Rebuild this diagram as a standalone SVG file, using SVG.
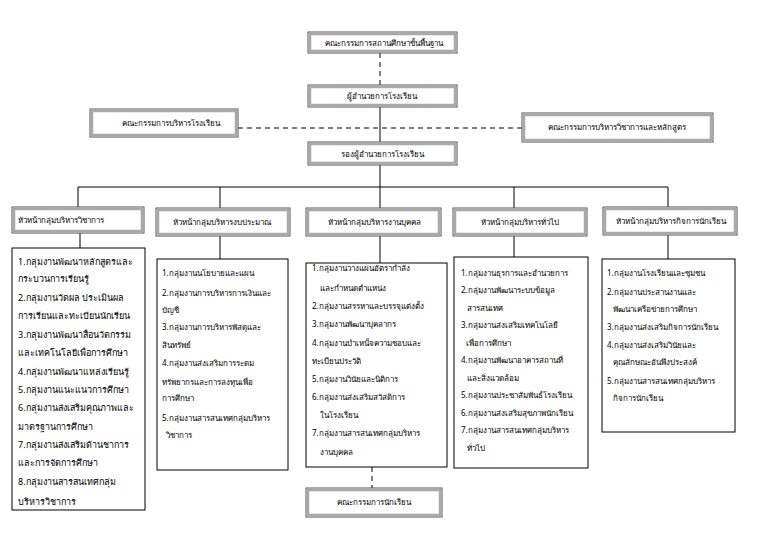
<svg xmlns="http://www.w3.org/2000/svg" width="758" height="533" viewBox="0 0 758 533">
<style>
text{font-family:"Noto Sans","DejaVu Sans","Liberation Sans",sans-serif;font-size:8px;fill:#000}
.c1 text{font-size:9px}
.mid{text-anchor:middle}
.b3o{fill:#fff;stroke:#555;stroke-width:1}
.b3i{fill:none;stroke:#a9a9a9;stroke-width:2.5}
.lst{fill:#fff;stroke:#000;stroke-width:1}
.ln{stroke:#000;stroke-width:1;fill:none}
.dash{stroke:#000;stroke-width:1;fill:none;stroke-dasharray:5,4}
</style>
<rect width="758" height="533" fill="#fff"/>
<g id="connectors">
<line class="dash" x1="380" y1="53" x2="380" y2="85"/>
<line class="ln" x1="380" y1="107" x2="380" y2="142"/>
<line class="dash" x1="238" y1="128" x2="522" y2="128"/>
<line class="ln" x1="380" y1="165" x2="380" y2="187"/>
<line class="ln" x1="78" y1="187" x2="668" y2="187"/>
<line class="ln" x1="78" y1="187" x2="78" y2="207"/>
<line class="ln" x1="220" y1="187" x2="220" y2="208"/>
<line class="ln" x1="380" y1="187" x2="380" y2="208"/>
<line class="ln" x1="514" y1="187" x2="514" y2="208"/>
<line class="ln" x1="668" y1="187" x2="668" y2="207"/>
<line class="ln" x1="80" y1="233" x2="80" y2="248"/>
<line class="ln" x1="220" y1="236" x2="220" y2="259"/>
<line class="ln" x1="380" y1="236" x2="380" y2="263"/>
<line class="ln" x1="514" y1="236" x2="514" y2="257"/>
<line class="ln" x1="668" y1="235" x2="668" y2="259"/>
<line class="dash" x1="372" y1="467" x2="372" y2="488"/>
</g>
<g id="n-board">
<rect class="b3o" x="308" y="32" width="149" height="21"/><rect class="b3i" x="310" y="34" width="145" height="17"/>
<text class="mid" x="384" y="46">คณะกรรมการสถานศึกษาขั้นพื้นฐาน</text>
</g>
<g id="n-director">
<rect class="b3o" x="308" y="85" width="149" height="22"/><rect class="b3i" x="310" y="87" width="145" height="18"/>
<text class="mid" x="382" y="99">ผู้อำนวยการโรงเรียน</text>
</g>
<g id="n-deputy">
<rect class="b3o" x="308" y="142" width="149" height="23"/><rect class="b3i" x="310" y="144" width="145" height="19"/>
<text class="mid" x="382" y="157">รองผู้อำนวยการโรงเรียน</text>
</g>
<g id="n-schoolboard">
<rect class="b3o" x="90" y="109" width="148" height="28"/><rect class="b3i" x="92" y="111" width="144" height="24"/>
<text class="mid" x="171" y="126">คณะกรรมการบริหารโรงเรียน</text>
</g>
<g id="n-academicboard">
<rect class="b3o" x="522" y="113" width="191" height="29"/><rect class="b3i" x="524" y="115" width="187" height="25"/>
<text class="mid" x="617" y="130">คณะกรรมการบริหารวิชาการและหลักสูตร</text>
</g>
<g id="h1">
<rect class="b3o" x="12" y="207" width="132" height="26"/><rect class="b3i" x="14" y="209" width="128" height="22"/>
<text x="18" y="223">หัวหน้ากลุ่มบริหารวิชาการ</text>
</g>
<g id="h2">
<rect class="b3o" x="156" y="208" width="134" height="28"/><rect class="b3i" x="158" y="210" width="130" height="24"/>
<text class="mid" x="222" y="225">หัวหน้ากลุ่มบริหารงบประมาณ</text>
</g>
<g id="h3">
<rect class="b3o" x="306" y="208" width="135" height="28"/><rect class="b3i" x="308" y="210" width="131" height="24"/>
<text class="mid" x="374" y="225">หัวหน้ากลุ่มบริหารงานบุคคล</text>
</g>
<g id="h4">
<rect class="b3o" x="453" y="208" width="134" height="28"/><rect class="b3i" x="455" y="210" width="130" height="24"/>
<text class="mid" x="520" y="225">หัวหน้ากลุ่มบริหารทั่วไป</text>
</g>
<g id="h5">
<rect class="b3o" x="603" y="207" width="134" height="28"/><rect class="b3i" x="605" y="209" width="130" height="24"/>
<text class="mid" x="671" y="224">หัวหน้ากลุ่มบริหารกิจการนักเรียน</text>
</g>
<g id="c1" class="c1">
<rect class="lst" x="12" y="248" width="133" height="262"/>
<text x="18" y="265">1.กลุ่มงานพัฒนาหลักสูตรและ</text>
<text x="18" y="282">กระบวนการเรียนรู้</text>
<text x="18" y="301">2.กลุ่มงานวัดผล ประเมินผล</text>
<text x="18" y="319">การเรียนและทะเบียนนักเรียน</text>
<text x="18" y="338">3.กลุ่มงานพัฒนาสื่อนวัตกรรม</text>
<text x="18" y="356">และเทคโนโลยีเพื่อการศึกษา</text>
<text x="18" y="375">4.กลุ่มงานพัฒนาแหล่งเรียนรู้</text>
<text x="18" y="393">5.กลุ่มงานแนะแนวการศึกษา</text>
<text x="18" y="411">6.กลุ่มงานส่งเสริมคุณภาพและ</text>
<text x="18" y="430">มาตรฐานการศึกษา</text>
<text x="18" y="448">7.กลุ่มงานส่งเสริมด้านชาการ</text>
<text x="18" y="466">และการจัดการศึกษา</text>
<text x="18" y="485">8.กลุ่มงานสารสนเทศกลุ่ม</text>
<text x="18" y="505">บริหารวิชาการ</text>
</g>
<g id="c2">
<rect class="lst" x="157" y="259" width="131" height="211"/>
<text x="162" y="276">1.กลุ่มงานนโยบายและแผน</text>
<text x="162" y="296">2.กลุ่มงานการบริหารการเงินและ</text>
<text x="162" y="313">บัญชี</text>
<text x="162" y="330">3.กลุ่มงานการบริหารพัสดุและ</text>
<text x="162" y="348">สินทรัพย์</text>
<text x="162" y="366">4.กลุ่มงานส่งเสริมการระดม</text>
<text x="162" y="385">ทรัพยากรและการลงทุนเพื่อ</text>
<text x="162" y="401">การศึกษา</text>
<text x="162" y="421">5.กลุ่มงานสารสนเทศกลุ่มบริหาร</text>
<text x="166" y="438">วิชาการ</text>
</g>
<g id="c3">
<rect class="lst" x="306" y="263" width="141" height="204"/>
<text x="312" y="271">1.กลุ่มงานวางแผนอัตรากำลัง</text>
<text x="320" y="291">และกำหนดตำแหน่ง</text>
<text x="312" y="309">2.กลุ่มงานสรรหาและบรรจุแต่งตั้ง</text>
<text x="312" y="327">3.กลุ่มงานพัฒนาบุคลากร</text>
<text x="312" y="346">4.กลุ่มงานบำเหน็จความชอบและ</text>
<text x="312" y="364">ทะเบียนประวัติ</text>
<text x="312" y="382">5.กลุ่มงานวินัยและนิติการ</text>
<text x="312" y="400">6.กลุ่มงานส่งเสริมสวัสดิการ</text>
<text x="320" y="418">ในโรงเรียน</text>
<text x="312" y="436">7.กลุ่มงานสารสนเทศกลุ่มบริหาร</text>
<text x="320" y="455">งานบุคคล</text>
</g>
<g id="c4">
<rect class="lst" x="454" y="257" width="134" height="211"/>
<text x="461" y="276">1.กลุ่มงานธุรการและอำนวยการ</text>
<text x="461" y="293">2.กลุ่มงานพัฒนาระบบข้อมูล</text>
<text x="467" y="311">สารสนเทศ</text>
<text x="461" y="328">3.กลุ่มงานส่งเสริมเทคโนโลยี</text>
<text x="466" y="346">เพื่อการศึกษา</text>
<text x="461" y="363">4.กลุ่มงานพัฒนาอาคารสถานที่</text>
<text x="467" y="381">และสิ่งแวดล้อม</text>
<text x="461" y="398">5.กลุ่มงานประชาสัมพันธ์โรงเรียน</text>
<text x="461" y="416">6.กลุ่มงานส่งเสริมสุขภาพนักเรียน</text>
<text x="461" y="433">7.กลุ่มงานสารสนเทศกลุ่มบริหาร</text>
<text x="467" y="451">ทั่วไป</text>
</g>
<g id="c5">
<rect class="lst" x="602" y="259" width="133" height="173"/>
<text x="607" y="276">1.กลุ่มงานโรงเรียนและชุมชน</text>
<text x="607" y="295">2.กลุ่มงานประสานงานและ</text>
<text x="613" y="312">พัฒนาเครือข่ายการศึกษา</text>
<text x="607" y="330">3.กลุ่มงานส่งเสริมกิจการนักเรียน</text>
<text x="607" y="348">4.กลุ่มงานส่งเสริมวินัยและ</text>
<text x="613" y="365">คุณลักษณะอันพึงประสงค์</text>
<text x="607" y="384">5.กลุ่มงานสารสนเทศกลุ่มบริหาร</text>
<text x="613" y="401">กิจการนักเรียน</text>
</g>
<g id="n-studentboard">
<rect class="b3o" x="306" y="488" width="136" height="29"/><rect class="b3i" x="308" y="490" width="132" height="25"/>
<text class="mid" x="374" y="505">คณะกรรมการนักเรียน</text>
</g>
</svg>
